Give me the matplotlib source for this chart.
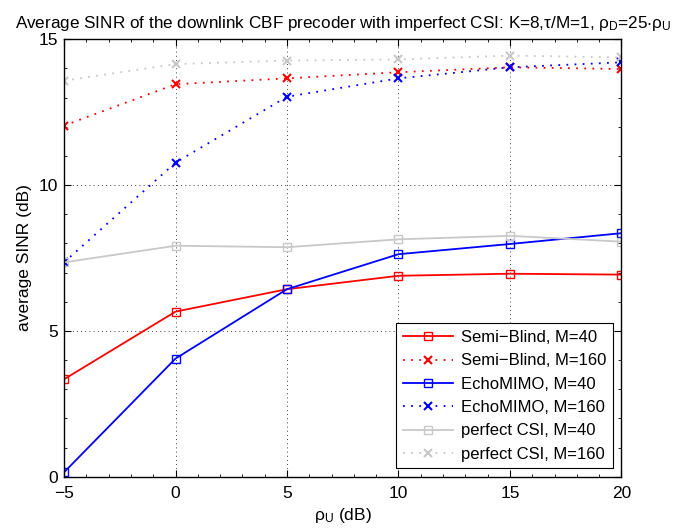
import matplotlib
matplotlib.use('Agg')
import matplotlib.pyplot as plt
from matplotlib.ticker import AutoMinorLocator

plt.rcParams['font.family'] = ['Liberation Sans', 'DejaVu Sans']
plt.rcParams['mathtext.fontset'] = 'custom'
plt.rcParams['mathtext.rm'] = 'Liberation Sans'
plt.rcParams['mathtext.it'] = 'Liberation Sans:italic'
plt.rcParams['mathtext.default'] = 'regular'

# SNR points (dB)
rho_u = [-5, 0, 5, 10, 15, 20]

# average SINR (dB)
semi_40 = [3.34, 5.66, 6.43, 6.89, 6.96, 6.93]
semi_160 = [12.04, 13.46, 13.66, 13.87, 14.04, 13.98]
echo_40 = [0.15, 4.05, 6.43, 7.63, 7.98, 8.35]
echo_160 = [7.35, 10.77, 13.03, 13.66, 14.04, 14.21]
perf_40 = [7.35, 7.92, 7.87, 8.14, 8.26, 8.06]
perf_160 = [13.58, 14.15, 14.27, 14.31, 14.44, 14.38]

labels = ['Semi\u2212Blind, M=40', 'Semi\u2212Blind, M=160',
          'EchoMIMO, M=40', 'EchoMIMO, M=160',
          'perfect CSI, M=40', 'perfect CSI, M=160']

grey = '#c8c8c8'
dot = (0, (1, 3.5))

fig = plt.figure(figsize=(6.99, 5.31), dpi=100)
ax = fig.add_axes([0.0916, 0.1023, 0.7975, 0.8237])

ax.plot(rho_u, semi_40, '-', color='red', marker='s', mfc='none', ms=6, lw=1.3, label=labels[0])
ax.plot(rho_u, semi_160, color='red', ls=dot, marker='x', ms=6, mew=1.5, lw=1.3, label=labels[1])
ax.plot(rho_u, echo_40, '-', color='blue', marker='s', mfc='none', ms=6, lw=1.3, label=labels[2])
ax.plot(rho_u, echo_160, color='blue', ls=dot, marker='x', ms=6, mew=1.5, lw=1.3, label=labels[3])
ax.plot(rho_u, perf_40, '-', color=grey, marker='s', mfc='none', ms=6, lw=1.3, label=labels[4])
ax.plot(rho_u, perf_160, color=grey, ls=dot, marker='x', ms=6, mew=1.5, lw=1.3, label=labels[5])

ax.set_xlim(-5, 20)
ax.set_ylim(0, 15)
ax.set_xticks([-5, 0, 5, 10, 15, 20])
ax.set_yticks([0, 5, 10, 15])
ax.set_xticklabels(['\u22125', '0', '5', '10', '15', '20'])
ax.xaxis.set_minor_locator(AutoMinorLocator(5))
ax.yaxis.set_minor_locator(AutoMinorLocator(5))
ax.tick_params(which='both', direction='in', top=True, right=True, labelsize=12.5)
ax.tick_params(which='major', length=5)
ax.tick_params(which='minor', length=2.5)
ax.tick_params(axis='y', pad=4)
ax.tick_params(axis='x', pad=7)
ax.grid(True, which='major', color='black', ls=(0, (1, 4)), lw=0.6)
for s in ax.spines.values():
    s.set_linewidth(1.0)

ax.set_xlabel(r'$\rho_U$ (dB)', fontsize=12.5, labelpad=3)
ax.set_ylabel('average SINR (dB)', fontsize=12.5, labelpad=5)
ax.set_title(r'Average SINR of the downlink CBF precoder with imperfect CSI: K=8,$\tau$/M=1, $\rho_D$=25$\cdot\rho_U$',
             fontsize=12.3, pad=8)

leg = ax.legend(loc='lower right', fontsize=12, fancybox=False, edgecolor='black',
                framealpha=1, borderaxespad=0.5, handlelength=3.0, labelspacing=0.5,
                borderpad=0.4, handletextpad=0.5)
leg.get_frame().set_linewidth(0.8)

fig.savefig('out.png', dpi=100)
